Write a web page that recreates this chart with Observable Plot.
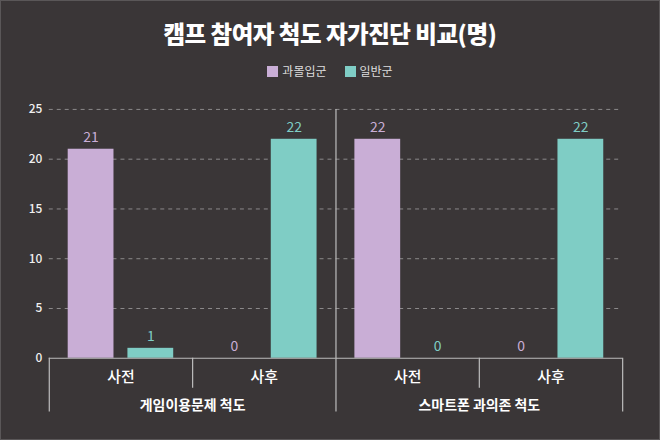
<!DOCTYPE html>
<html>
<head>
<meta charset="utf-8">
<script src="https://cdn.jsdelivr.net/npm/d3@7"></script>
<script src="https://cdn.jsdelivr.net/npm/@observablehq/plot@0.6"></script>
<style>
  html, body { margin: 0; padding: 0; }
  body { width: 660px; height: 440px; overflow: hidden; background: #3a3637; font-family: "Noto Sans CJK KR", "Noto Sans", sans-serif; }
  #wrap { position: relative; width: 660px; height: 440px; box-sizing: border-box; border: 1px solid #5a5758; }
  #title { position: absolute; top: 21px; left: 0; width: 100%; text-align: center; color: #ffffff; font-size: 23.5px; font-weight: 800; line-height: 1; letter-spacing: -0.5px; }
  #legend { position: absolute; top: 62px; left: 0; width: 100%; display: flex; justify-content: center; gap: 18px; color: #dddddd; font-size: 12px; line-height: 16px; }
  .item { display: flex; align-items: center; gap: 4px; }
  .sw { width: 11px; height: 11px; display: inline-block; }
  #chart { position: absolute; top: 89px; left: -1px; }
</style>
</head>
<body>
<div id="wrap">
  <div id="title"></div>
  <div id="legend"></div>
  <div id="chart"></div>
</div>
<script>
const title = "캠프 참여자 척도 자가진단 비교(명)";
const groups = ["게임이용문제 척도", "스마트폰 과의존 척도"];
const periods = ["사전", "사후"];
const series = ["과몰입군", "일반군"];
const colors = ["#c9aed6", "#7fcdc5"];
// values per group × period, in order: [group0 사전, group0 사후, group1 사전, group1 사후]
const overValues = [21, 0, 22, 0];
const normalValues = [1, 22, 0, 22];
const yTicks = [0, 5, 10, 15, 20, 25];

document.getElementById("title").textContent = title;
const legend = document.getElementById("legend");
series.forEach((s, i) => {
  const it = document.createElement("div");
  it.className = "item";
  it.innerHTML = `<span class="sw" style="background:${colors[i]}"></span><span>${s}</span>`;
  legend.appendChild(it);
});

const keys = [];
groups.forEach(g => periods.forEach(p => keys.push(g + "|" + p)));
const table = [];
keys.forEach((k, i) => {
  table.push({key: k, series: series[0], value: overValues[i]});
  table.push({key: k, series: series[1], value: normalValues[i]});
});
const groupLabels = groups.map(g => ({key: g + "|" + periods[0], group: g}));

// structural frame lines below the axis (facet edges)
const leftEdges = keys.map((k, i) => ({
  key: k,
  top: i === 2 ? 25 : 0,
  bottom: (i % 2 === 0) ? -5.4 : -3
}));
const rightEdges = [{key: keys[keys.length - 1], top: 0, bottom: -5.4}];

const chart = Plot.plot({
  width: 662,
  height: 351,
  marginLeft: 49,
  marginRight: 37,
  marginTop: 19,
  marginBottom: 82,
  style: {background: "transparent", fontFamily: "'Noto Sans CJK KR', sans-serif", overflow: "visible"},
  fx: {domain: keys, padding: 0, label: null},
  x: {domain: series, paddingInner: 0.24, paddingOuter: 0.32, axis: null},
  y: {domain: [0, 25], label: null},
  color: {domain: series, range: colors},
  marks: [
    Plot.ruleY(yTicks.filter(d => d > 0), {stroke: "#8c8a8b", strokeDasharray: "4,4", strokeWidth: 1}),
    Plot.axisY({ticks: yTicks, tickSize: 0, tickPadding: 7, fontSize: 12, fontWeight: 500, fill: "#f0f0f0", label: null}),
    Plot.barY(table, {fx: "key", x: "series", y: "value", fill: "series"}),
    Plot.text(table, {fx: "key", x: "series", y: "value", text: d => String(d.value), fill: "series", dy: -12, fontSize: 14}),
    Plot.ruleY([0], {stroke: "#bdbdbd", strokeWidth: 1.2}),
    Plot.ruleX(leftEdges, {fx: "key", x: null, y1: "top", y2: "bottom", dx: -72, stroke: "#bdbdbd", strokeWidth: 1.2}),
    Plot.ruleX(rightEdges, {fx: "key", x: null, y1: "top", y2: "bottom", dx: 72, stroke: "#bdbdbd", strokeWidth: 1.2}),
    Plot.axisFx({anchor: "bottom", tickSize: 0, tickPadding: 13, fontSize: 15, fontWeight: 500, fill: "#ffffff", label: null, tickFormat: k => k.split("|")[1]}),
    Plot.text(groupLabels, {fx: "key", frameAnchor: "right", textAnchor: "middle", y: -4.7, text: "group", fill: "#ffffff", fontSize: 14, fontWeight: "bold"})
  ]
});
document.getElementById("chart").appendChild(chart);
</script>
</body>
</html>
